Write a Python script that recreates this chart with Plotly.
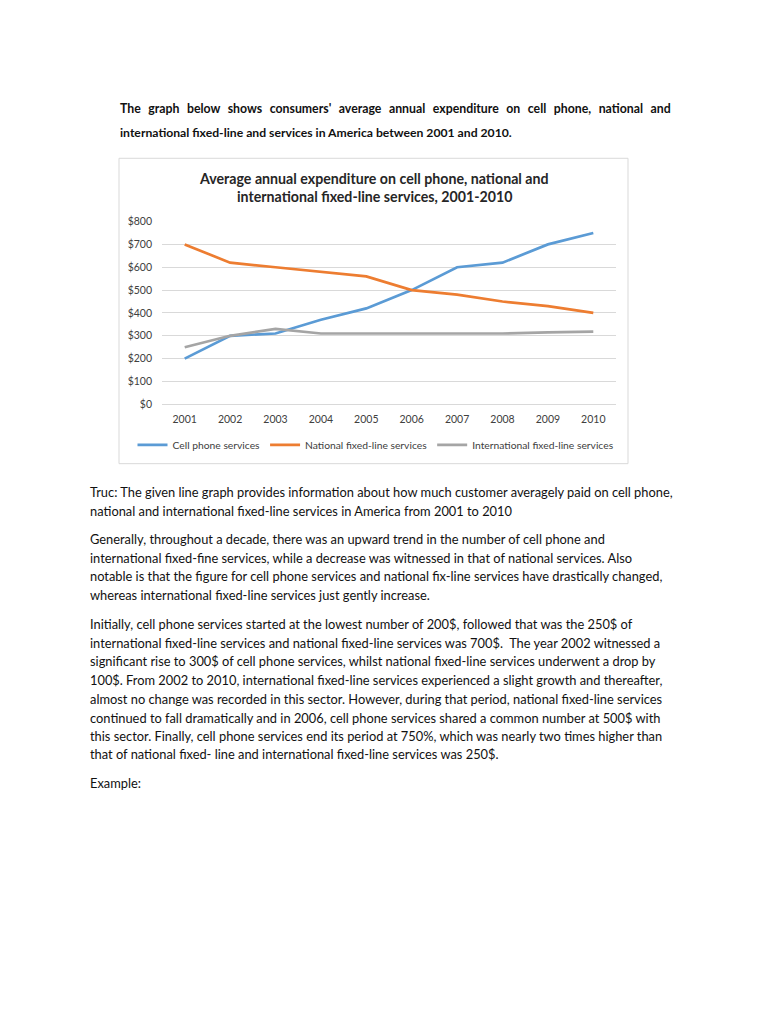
import plotly.graph_objects as go

W, H = 768, 1024
# the page body adds an 8px margin; positions below are page pixels, shifted to figure pixels
OX, OY = 8, 8

years = ["2001", "2002", "2003", "2004", "2005", "2006", "2007", "2008", "2009", "2010"]
cell_phone = [200, 300, 310, 370, 420, 500, 600, 620, 700, 750]
national_fixed = [700, 620, 600, 580, 560, 500, 480, 450, 430, 400]
international_fixed = [250, 300, 330, 310, 310, 310, 310, 310, 315, 318]
series_names = ["Cell phone services", "National fixed-line services", "International fixed-line services"]
y_ticks = [0, 100, 200, 300, 400, 500, 600, 700, 800]
y_tick_labels = ["$" + str(v) for v in y_ticks]

chart_title_lines = ["Average annual expenditure on cell phone, national and",
                     "international fixed-line services, 2001-2010"]
header_lines = ["The graph below shows consumers' average annual expenditure on cell phone, national and",
                "international fixed-line and services in America between 2001 and 2010."]
body_lines = [
    "Truc: The given line graph provides information about how much customer averagely paid on cell phone,",
    "national and international fixed-line services in America from 2001 to 2010",
    "Generally, throughout a decade, there was an upward trend in the number of cell phone and",
    "international fixed-fine services, while a decrease was witnessed in that of national services. Also",
    "notable is that the figure for cell phone services and national fix-line services have drastically changed,",
    "whereas international fixed-line services just gently increase.",
    "Initially, cell phone services started at the lowest number of 200$, followed that was the 250$ of",
    "international fixed-line services and national fixed-line services was 700$.\u00a0 The year 2002 witnessed a",
    "significant rise to 300$ of cell phone services, whilst national fixed-line services underwent a drop by",
    "100$. From 2002 to 2010, international fixed-line services experienced a slight growth and thereafter,",
    "almost no change was recorded in this sector. However, during that period, national fixed-line services",
    "continued to fall dramatically and in 2006, cell phone services shared a common number at 500$ with",
    "this sector. Finally, cell phone services end its period at 750%, which was nearly two times higher than",
    "that of national fixed- line and international fixed-line services was 250$.",
    "Example:",
]
body_y = [492, 511, 539, 558, 577, 596, 625, 644, 663, 682, 701, 720, 739, 757, 786]

colors = ["#5B9BD5", "#ED7D31", "#A5A5A5"]
FONT = "Lato"

def px(x):
    return (x - OX) / W

def py(y):
    return 1 - (y - OY) / H

fig = go.Figure()
for name, vals, c in zip(series_names, [cell_phone, national_fixed, international_fixed], colors):
    fig.add_trace(go.Scatter(x=years, y=vals, name=name, mode="lines",
                             line=dict(color=c, width=2.7)))

annotations = []
annotations.append(dict(text="<b>" + header_lines[0].replace(" ", " \u00a0\u2009") + "</b>",
                        x=px(118), y=py(104), xref="paper", yref="paper",
                        xanchor="left", yanchor="middle", showarrow=False,
                        font=dict(family=FONT, size=12.3, color="#111")))
annotations.append(dict(text="<b>" + header_lines[1] + "</b>",
                        x=px(118), y=py(128), xref="paper", yref="paper",
                        xanchor="left", yanchor="middle", showarrow=False,
                        font=dict(family=FONT, size=12.2, color="#111")))
for line, yy in zip(chart_title_lines, [174, 193]):
    annotations.append(dict(text="<b>" + line + "</b>", x=px(374), y=py(yy),
                            xref="paper", yref="paper", xanchor="center", yanchor="middle",
                            showarrow=False, font=dict(family=FONT, size=14.2, color="#262626")))
for line, yy in zip(body_lines, body_y):
    annotations.append(dict(text=line, x=px(88), y=py(yy), xref="paper", yref="paper",
                            xanchor="left", yanchor="middle", showarrow=False,
                            font=dict(family=FONT, size=12.85, color="#111")))

fig.update_layout(
    width=W, height=H,
    margin=dict(l=0, r=0, t=0, b=0),
    paper_bgcolor="white", plot_bgcolor="white",
    showlegend=True,
    legend=dict(orientation="h", x=px(376), xanchor="center", y=py(444), yanchor="middle",
                font=dict(family=FONT, size=10.3, color="#404040"),
                bgcolor="rgba(0,0,0,0)", tracegroupgap=0, itemwidth=30),
    xaxis=dict(domain=[px(162), px(616)], type="category", range=[-0.5, 9.5], showgrid=False,
               showline=True, linecolor="#d9d9d9", linewidth=1, ticks="",
               tickfont=dict(family=FONT, size=10.5, color="#404040"),
               ticklabelstandoff=5, fixedrange=True),
    yaxis=dict(domain=[py(403), py(218)], range=[0, 800], tickvals=y_ticks,
               ticktext=y_tick_labels, showgrid=True, gridcolor="#d9d9d9", gridwidth=1,
               zeroline=False, showline=False, ticks="",
               tickfont=dict(family=FONT, size=10.5, color="#404040"),
               ticklabelstandoff=9, fixedrange=True),
    annotations=annotations,
    shapes=[dict(type="rect", xref="paper", yref="paper", x0=px(119), x1=px(628),
                 y0=py(463), y1=py(154), line=dict(color="#d9d9d9", width=1),
                 fillcolor="rgba(0,0,0,0)", layer="below")],
)

fig.write_html("out.html")
